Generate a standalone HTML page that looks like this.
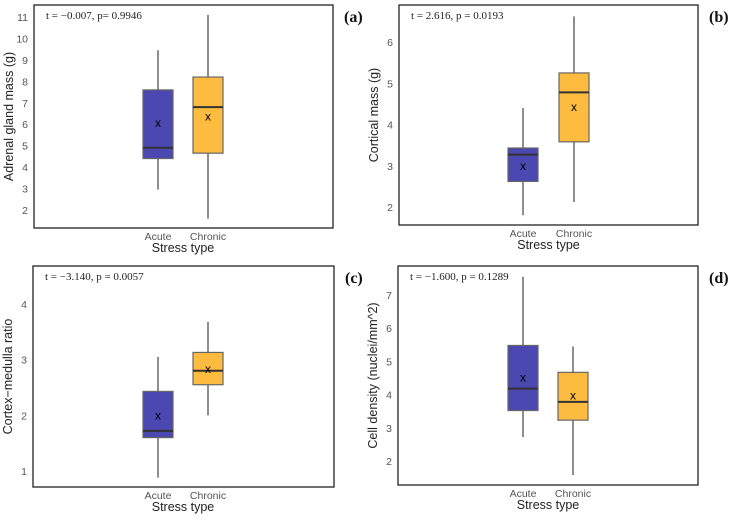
<!DOCTYPE html>
<html><head><meta charset="utf-8"><style>
body{margin:0;background:#fff}
</style></head><body>
<svg id="chart" width="734" height="515" xmlns="http://www.w3.org/2000/svg" style="font-family:'Liberation Sans',sans-serif"></svg>
<script>
const categories = ["Acute", "Chronic"];
const panelLabels = ["(a)", "(b)", "(c)", "(d)"];
const statTexts = ["t = \u22120.007,  p= 0.9946", "t = 2.616, p = 0.0193", "t = \u22123.140, p = 0.0057", "t = \u22121.600, p = 0.1289"];
const yTitles = ["Adrenal gland mass (g)", "Cortical mass (g)", "Cortex\u2212medulla ratio", "Cell density (nuclei/mm^2)"];
const yTicksA = [2,3,4,5,6,7,8,9,10,11];
const yTicksB = [2,3,4,5,6];
const yTicksC = [1,2,3,4];
const yTicksD = [2,3,4,5,6,7];
// [low whisker, q1, median, q3, high whisker, mean] per category
const statsA = [[2.95,4.4,4.9,7.6,9.45,6.05],[1.6,4.65,6.8,8.2,11.1,6.35]];
const statsB = [[1.8,2.62,3.27,3.43,4.4,3.0],[2.12,3.58,4.78,5.25,6.62,4.42]];
const statsC = [[0.88,1.6,1.72,2.43,3.05,2.0],[2.0,2.55,2.8,3.13,3.68,2.83]];
const statsD = [[2.72,3.52,4.18,5.48,7.55,4.52],[1.58,3.23,3.78,4.67,5.45,3.97]];

const layouts = [
 {x0:34,x1:333,y0:5,y1:228,tv1:11,ty1:17,tv2:2,ty2:210,cx:[158,208]},
 {x0:399,x1:698,y0:5,y1:225,tv1:6,ty1:42,tv2:2,ty2:207,cx:[523,574]},
 {x0:33,x1:334,y0:266,y1:487,tv1:4,ty1:304,tv2:1,ty2:471,cx:[158,208]},
 {x0:398,x1:698,y0:266,y1:485,tv1:7,ty1:295,tv2:2,ty2:461,cx:[523,573]}
];
const ticksAll=[yTicksA,yTicksB,yTicksC,yTicksD];
const statsAll=[statsA,statsB,statsC,statsD];
const fills=["#4b48b1","#fdbb40"];
const svg=document.getElementById('chart');
const NS="http://www.w3.org/2000/svg";
function mk(tag,attrs,parent){const e=document.createElementNS(NS,tag);for(const k in attrs)e.setAttribute(k,attrs[k]);(parent||svg).appendChild(e);return e;}
const names=["a","b","c","d"];
layouts.forEach((L,i)=>{
 const g=mk('g',{});
 
 
 const y=v=>L.ty1+(v-L.tv1)*(L.ty2-L.ty1)/(L.tv2-L.tv1);
 const fr=mk('rect',{x:L.x0,y:L.y0,width:L.x1-L.x0,height:L.y1-L.y0,fill:'none',stroke:'#222','stroke-width':1.3},g);
 
 
 ticksAll[i].forEach(t=>{
  const tx=mk('text',{x:L.x0-6,y:y(t)+4,'text-anchor':'end','font-size':10.5,fill:'#555'},g);
  tx.textContent=t;
  
  
 });
 const yt=mk('text',{transform:`translate(${L.x0-21},${(L.y0+L.y1)/2}) rotate(-90)`,'text-anchor':'middle','font-size':12.5,fill:'#222'},g);
 yt.textContent=yTitles[i];
 
 
 categories.forEach((c,j)=>{
  const s=statsAll[i][j],cx=L.cx[j],w=30;
  const wh=mk('line',{x1:cx,x2:cx,y1:y(s[0]),y2:y(s[4]),stroke:'#444','stroke-width':1.2},g);
  
  
  const bx=mk('rect',{x:cx-w/2,y:y(s[3]),width:w,height:y(s[1])-y(s[3]),fill:fills[j],stroke:'#666','stroke-width':1.2},g);
  
  
  const md=mk('line',{x1:cx-w/2,x2:cx+w/2,y1:y(s[2]),y2:y(s[2]),stroke:'#333','stroke-width':2},g);
  
  
  const mn=mk('text',{x:cx,y:y(s[5])+4,'text-anchor':'middle','font-size':12,fill:'#000'},g);
  mn.textContent='x';
  
  
  const xl=mk('text',{x:cx,y:L.y1+12,'text-anchor':'middle','font-size':10.5,fill:'#555'},g);
  xl.textContent=c;
  
  
 });
 const xt=mk('text',{x:(L.cx[0]+L.cx[1])/2,y:L.y1+24,'text-anchor':'middle','font-size':12.5,fill:'#222'},g);
 xt.textContent='Stress type';
 
 
 const st=mk('text',{x:L.x0+12,y:L.y0+14,'font-size':11,fill:'#222',style:"font-family:'Liberation Serif',serif"},g);
 st.textContent=statTexts[i];
 
 
 const pl=mk('text',{x:L.x1+11,y:L.y0+17,'font-size':16,'font-weight':'bold',fill:'#111',style:"font-family:'Liberation Serif',serif"},g);
 pl.textContent=panelLabels[i];
 
 
});
</script>
</body></html>
